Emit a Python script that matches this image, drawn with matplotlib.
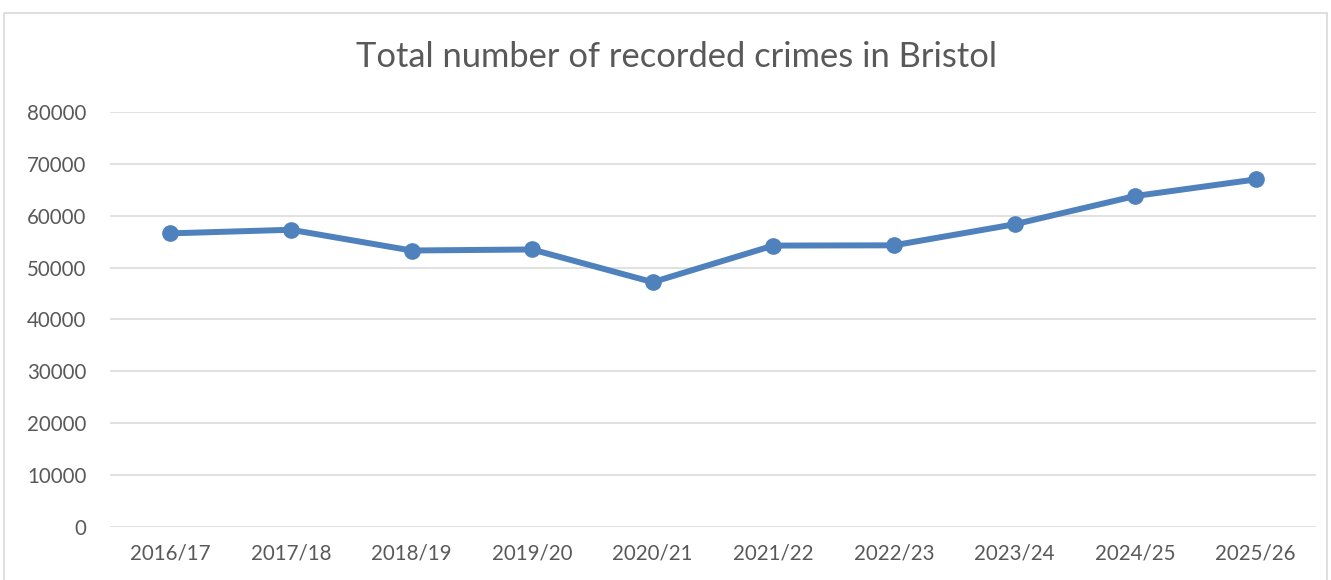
import numpy as np
import matplotlib.pyplot as plt
from matplotlib.patches import Rectangle

plt.rcParams['font.family'] = ['Lato', 'DejaVu Sans']

# dados
anos = ['2016/17', '2017/18', '2018/19', '2019/20', '2020/21',
        '2021/22', '2022/23', '2023/24', '2024/25', '2025/26']
crimes = [56600, 57300, 53300, 53500, 47200, 54250, 54300, 58350, 63800, 67000]
yticks = [0, 10000, 20000, 30000, 40000, 50000, 60000, 70000, 80000]

cor_texto = '#595959'
cor_linha = '#4F81BD'
cor_grade = '#D9D9D9'

fig = plt.figure(figsize=(13.31, 5.8), dpi=100)
# moldura do gráfico
fig.patches.append(Rectangle((4/1331, -0.1), 1323/1331, 1.1 - 13/580,
                             transform=fig.transFigure, fill=False,
                             edgecolor=cor_grade, linewidth=1.2))

ax = fig.add_axes([110/1331, 53/580, 1206/1331, 415/580])
x = np.arange(len(anos))
ax.plot(x, crimes, color=cor_linha, linewidth=4.3, marker='o',
        markersize=11, solid_capstyle='round', zorder=3)

ax.set_xlim(-0.5, len(anos) - 0.5)
ax.set_ylim(0, 80000)
ax.set_yticks(yticks)
ax.set_yticklabels([str(v) for v in yticks])
ax.set_xticks(x)
ax.set_xticklabels(anos)
ax.yaxis.grid(True, color=cor_grade, linewidth=1.1)
ax.set_axisbelow(True)
for s in ax.spines.values():
    s.set_visible(False)
ax.tick_params(axis='both', length=0, colors=cor_texto, labelsize=14.8)
ax.tick_params(axis='y', pad=17)
ax.tick_params(axis='x', pad=12)

fig.text(676/1331, 1 - 57/580, 'Total number of recorded crimes in Bristol',
         ha='center', va='center', fontsize=24.8, color=cor_texto)

fig.savefig('out.png', dpi=100)
